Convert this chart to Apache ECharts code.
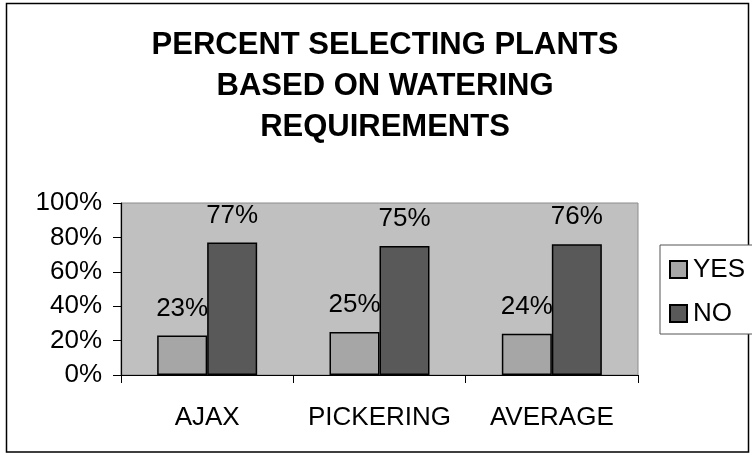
<!DOCTYPE html>
<html>
<head>
<meta charset="utf-8">
<script src="https://cdn.jsdelivr.net/npm/echarts@6/dist/echarts.min.js"></script>
<style>
  html, body { margin: 0; padding: 0; background: #ffffff; }
  #chart { width: 752px; height: 456px; }
</style>
</head>
<body>
<div id="chart"></div>
<script>
// Survey results: share of respondents choosing plants by watering needs
const categories = ['AJAX', 'PICKERING', 'AVERAGE'];
const yesValues = [23, 25, 24];
const noValues = [77, 75, 76];
const seriesNames = ['YES', 'NO'];
const titleLines = ['PERCENT SELECTING PLANTS', 'BASED ON WATERING', 'REQUIREMENTS'];

const FONT = '"Liberation Sans", Arial, Helvetica, sans-serif';

const chart = echarts.init(document.getElementById('chart'), null, { renderer: 'canvas' });

const labelStyle = {
  show: true,
  position: 'top',
  distance: 14,
  formatter: '{c}%',
  color: '#000',
  fontFamily: FONT,
  fontSize: 26
};

chart.setOption({
  animation: false,
  backgroundColor: '#ffffff',
  graphic: [
    {
      type: 'rect',
      shape: { x: 6.5, y: 3.5, width: 742, height: 448.5 },
      style: { fill: 'none', stroke: '#000', lineWidth: 1.5 },
      silent: true,
      z: 0
    },
    {
      type: 'text',
      x: 385,
      y: 25,
      style: {
        text: titleLines.join('\n'),
        align: 'center',
        verticalAlign: 'top',
        font: 'bold 31px ' + FONT,
        lineHeight: 41,
        fill: '#000'
      },
      silent: true
    }
  ],
  grid: {
    left: 121,
    right: 114,
    top: 203,
    bottom: 81,
    show: true,
    backgroundColor: '#c0c0c0',
    borderColor: '#8c8c8c',
    borderWidth: 1
  },
  legend: {
    orient: 'vertical',
    left: 660,
    top: 245,
    data: seriesNames,
    icon: 'rect',
    itemWidth: 17,
    itemHeight: 17,
    itemGap: 18,
    padding: [11.5, 8, 7.5, 9],
    borderColor: '#555',
    borderWidth: 1,
    backgroundColor: '#ffffff',
    textStyle: { color: '#000', fontFamily: FONT, fontSize: 26, lineHeight: 25, padding: [0, 0, 0, 1] }
  },
  xAxis: {
    type: 'category',
    data: categories,
    axisLine: { show: true, lineStyle: { color: '#000', width: 1.2 } },
    axisTick: { show: true, inside: false, length: 8, lineStyle: { color: '#000' } },
    axisLabel: { interval: 0, color: '#000', fontFamily: FONT, fontSize: 26, margin: 30 },
    splitLine: { show: false }
  },
  yAxis: {
    type: 'value',
    min: 0,
    max: 100,
    interval: 20,
    axisLine: { show: true, lineStyle: { color: '#000', width: 1.2 } },
    axisTick: { show: true, inside: false, length: 8, lineStyle: { color: '#000' } },
    axisLabel: { color: '#000', fontFamily: FONT, fontSize: 26, margin: 19, formatter: '{value}%' },
    splitLine: { show: false }
  },
  series: [
    {
      name: seriesNames[0],
      type: 'bar',
      data: yesValues,
      barWidth: 50,
      barGap: '0%',
      itemStyle: { color: '#a6a6a6', borderColor: '#000', borderWidth: 1.5 },
      label: labelStyle
    },
    {
      name: seriesNames[1],
      type: 'bar',
      data: noValues,
      barWidth: 50,
      barGap: '0%',
      itemStyle: { color: '#595959', borderColor: '#000', borderWidth: 1.5 },
      label: labelStyle
    }
  ]
});
</script>
</body>
</html>
